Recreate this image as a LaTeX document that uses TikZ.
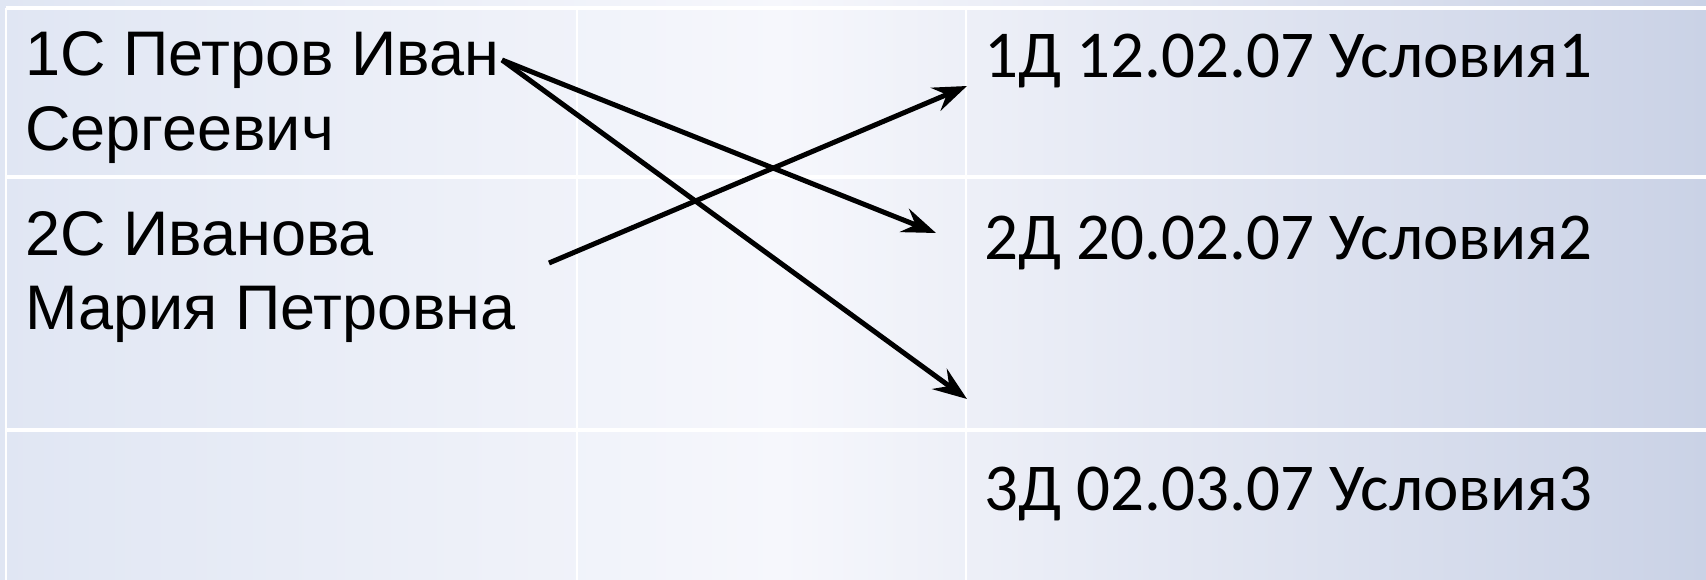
\documentclass[tikz,border=0pt]{standalone}
\usepackage{fontspec}
\setmainfont{Liberation Sans}
\newfontfamily\calibri{Carlito}
\usetikzlibrary{arrows.meta}
\definecolor{bgleft}{RGB}{224,230,243}
\definecolor{bgmid}{RGB}{246,247,252}
\definecolor{bgright}{RGB}{202,210,230}

\begin{document}
\begin{tikzpicture}[x=1pt, y=-1pt]
	\tikzstyle{rule} =[white, line width=3.5pt]
	\tikzstyle{namecell} =[anchor=base west, inner sep=0pt, font=\fontsize{63}{74}\selectfont]
	\tikzstyle{dealcell} =[anchor=base west, inner sep=0pt, font=\calibri\fontsize{67}{80}\selectfont]
	\tikzstyle{link} =[-{Stealth[length=34pt, width=25pt, inset=12pt]}, line width=5pt]
	\useasboundingbox (0,0) rectangle (1706,580);
	\shade[left color=bgleft, right color=bgmid] (0,0) rectangle (780,580);
	\shade[left color=bgmid, right color=bgright] (780,0) rectangle (1706,580);
	% table rules
	\draw[rule] (6,8) -- (1706,8);
	\draw[rule] (6,177) -- (1706,177);
	\draw[rule] (6,430) -- (1706,430);
	\foreach \x in {6,577,966}
		{\draw[rule, line width=2pt] (\x,8) -- (\x,580); }
	% left column
	\node[namecell] (c1a) at (25,76) {1С Петров Иван};
	\node[namecell] (c1b) at (25,151) {Сергеевич};
	\node[namecell] (c2a) at (25,255) {2С Иванова};
	\node[namecell] (c2b) at (25,329) {Мария Петровна};
	% right column
	\node[dealcell] (d1) at (984,78) {1Д 12.02.07 Условия1};
	\node[dealcell] (d2) at (984,259) {2Д 20.02.07 Условия2};
	\node[dealcell] (d3) at (984,510) {3Д 02.03.07 Условия3};
	% arrow ends
	\coordinate (ivan) at (502,60);
	\coordinate (maria) at (549,263);
	\coordinate (e1) at (967,86);
	\coordinate (e2) at (936,233);
	\coordinate (e3) at (967,399);
	\draw[link] (ivan) -- (e2);
	\draw[link] (ivan) -- (e3);
	\draw[link] (maria) -- (e1);
\end{tikzpicture}
\end{document}
